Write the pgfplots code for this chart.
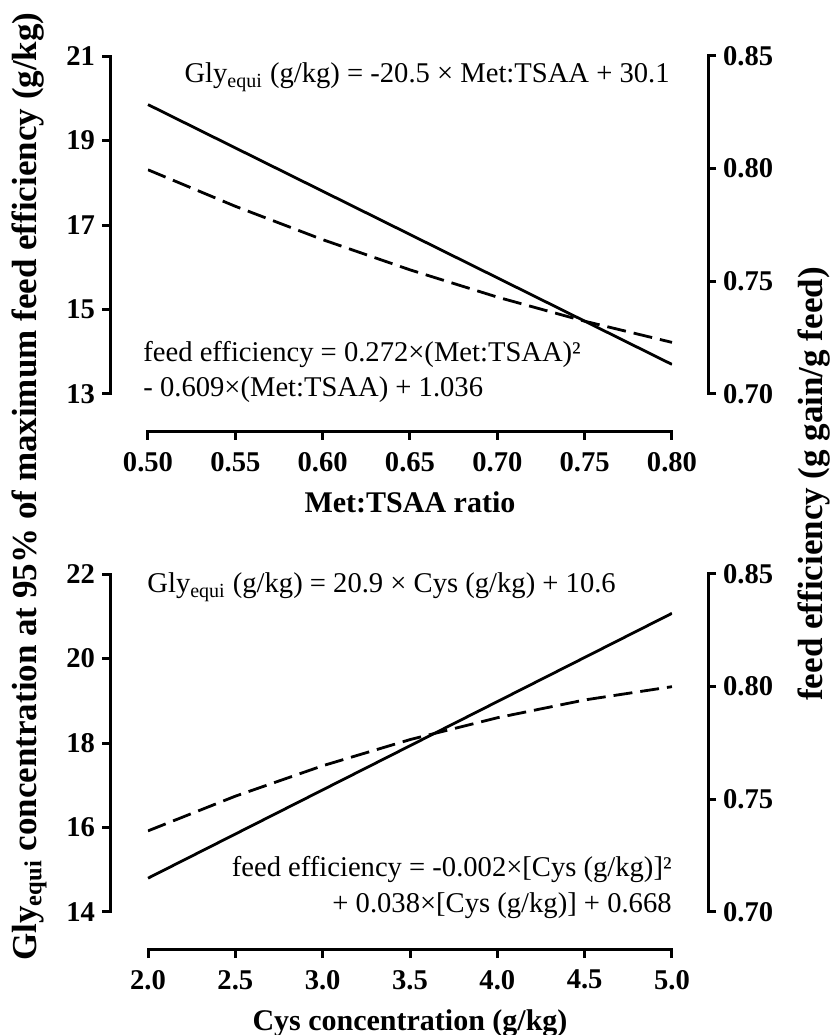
\documentclass[border=0pt]{standalone}
\usepackage{fontspec}
\setmainfont{Liberation Serif}
\usepackage{pgfplots}
\pgfplotsset{compat=1.18}

\pgfplotsset{
  prism/.style={
    scale only axis,
    anchor=south west,
    tick align=outside,
    major tick length=4pt,
    axis line style={line width=1.5pt, line cap=rect},
    major tick style={line width=1.5pt,black},
    ticklabel style={font=\fontsize{14.3}{16}\selectfont\bfseries},
    /pgf/number format/assume math mode=true,
  },
  solidline/.style={black, line width=1.4pt, no markers},
  dashline/.style={black, line width=1.4pt, no markers, dash pattern=on 9.5pt off 4pt},
}

\begin{document}
\begin{tikzpicture}
\useasboundingbox (0,0) rectangle (416pt,517.5pt);

% ================= TOP PANEL =================
% left y axis (Gly_equi) + solid line
\begin{axis}[prism, at={(55pt,320.5pt)}, width=281pt, height=169pt,
  xmin=0.478244, xmax=0.8, ymin=13, ymax=21,
  hide x axis, axis y line*=left,
  ytick={13,15,17,19,21}, yticklabels={13,15,17,19,21}]
\addplot[solidline] coordinates {(0.50,19.85) (0.80,13.70)};
\end{axis}

% right y axis (feed efficiency) + dashed line
\begin{axis}[prism, at={(74pt,320.5pt)}, width=280pt, height=169pt,
  xmin=0.5, xmax=0.820611, ymin=0.70, ymax=0.85,
  hide x axis, axis y line*=right,
  ytick={0.70,0.75,0.80,0.85}, yticklabels={0.70,0.75,0.80,0.85}]
\addplot[dashline] coordinates {(0.50,0.7995) (0.55,0.7833) (0.60,0.7685) (0.65,0.7551) (0.70,0.7430) (0.75,0.7323) (0.80,0.7229)};
\end{axis}

% x axis
\begin{axis}[prism, at={(74pt,301.5pt)}, width=262pt, height=188pt,
  xmin=0.5, xmax=0.8, ymin=0, ymax=1,
  hide y axis, axis x line*=bottom,
  xtick={0.50,0.55,0.60,0.65,0.70,0.75,0.80},
  xticklabels={0.50,0.55,0.60,0.65,0.70,0.75,0.80},
  xticklabel style={yshift=-2.5pt},
  xlabel={Met:TSAA ratio},
  xlabel style={font=\fontsize{15}{17}\selectfont\bfseries, at={(axis description cs:0.5,0)}, anchor=base, yshift=-40.5pt}]
\end{axis}

% ================= BOTTOM PANEL =================
\begin{axis}[prism, at={(55pt,61.5pt)}, width=281pt, height=169pt,
  xmin=1.782443, xmax=5, ymin=14, ymax=22,
  hide x axis, axis y line*=left,
  ytick={14,16,18,20,22}, yticklabels={14,16,18,20,22}]
\addplot[solidline] coordinates {(2.0,14.80) (5.0,21.07)};
\end{axis}

\begin{axis}[prism, at={(74pt,61.5pt)}, width=280pt, height=169pt,
  xmin=2, xmax=5.206107, ymin=0.70, ymax=0.85,
  hide x axis, axis y line*=right,
  ytick={0.70,0.75,0.80,0.85}, yticklabels={0.70,0.75,0.80,0.85}]
\addplot[dashline] coordinates {(2.0,0.7360) (2.5,0.7514) (3.0,0.7649) (3.5,0.7765) (4.0,0.7862) (4.5,0.7941) (5.0,0.8000)};
\end{axis}

\begin{axis}[prism, at={(74pt,42.5pt)}, width=262pt, height=188pt,
  xmin=2, xmax=5, ymin=0, ymax=1,
  hide y axis, axis x line*=bottom,
  xtick={2.0,2.5,3.0,3.5,4.0,4.5,5.0},
  xticklabels={2.0,2.5,3.0,3.5,4.0,4.5,5.0},
  xticklabel style={yshift=-2.5pt},
  xlabel={Cys concentration (g/kg)},
  xlabel style={font=\fontsize{15}{17}\selectfont\bfseries, at={(axis description cs:0.5,0)}, anchor=base, yshift=-40.5pt}]
\end{axis}

% ================= TEXT =================
\begin{scope}[every node/.style={font=\fontsize{14.3}{16}\selectfont, inner sep=0pt}]
\node[anchor=base east] at (335pt,476pt) {Gly\textsubscript{equi} (g/kg) = -20.5 × Met:TSAA + 30.1};
\node[anchor=base west] at (71.5pt,336.5pt) {feed efficiency = 0.272×(Met:TSAA)²};
\node[anchor=base west] at (71.5pt,319pt) {- 0.609×(Met:TSAA) + 1.036};
\node[anchor=base west] at (73.5pt,221pt) {Gly\textsubscript{equi} (g/kg) = 20.9 × Cys (g/kg) + 10.6};
\node[anchor=base east] at (336pt,79pt) {feed efficiency = -0.002×[Cys (g/kg)]²};
\node[anchor=base east] at (336pt,61pt) {+ 0.038×[Cys (g/kg)] + 0.668};
\end{scope}

\node[rotate=90, font=\fontsize{17.5}{19}\selectfont\bfseries] at (14.5pt,274.25pt)
  {Gly\textsubscript{equi} concentration at 95\% of maximum feed efficiency (g/kg)};
\node[rotate=90, font=\fontsize{17.5}{19}\selectfont\bfseries] at (407pt,275.5pt)
  {feed efficiency (g gain/g feed)};
\end{tikzpicture}
\end{document}
